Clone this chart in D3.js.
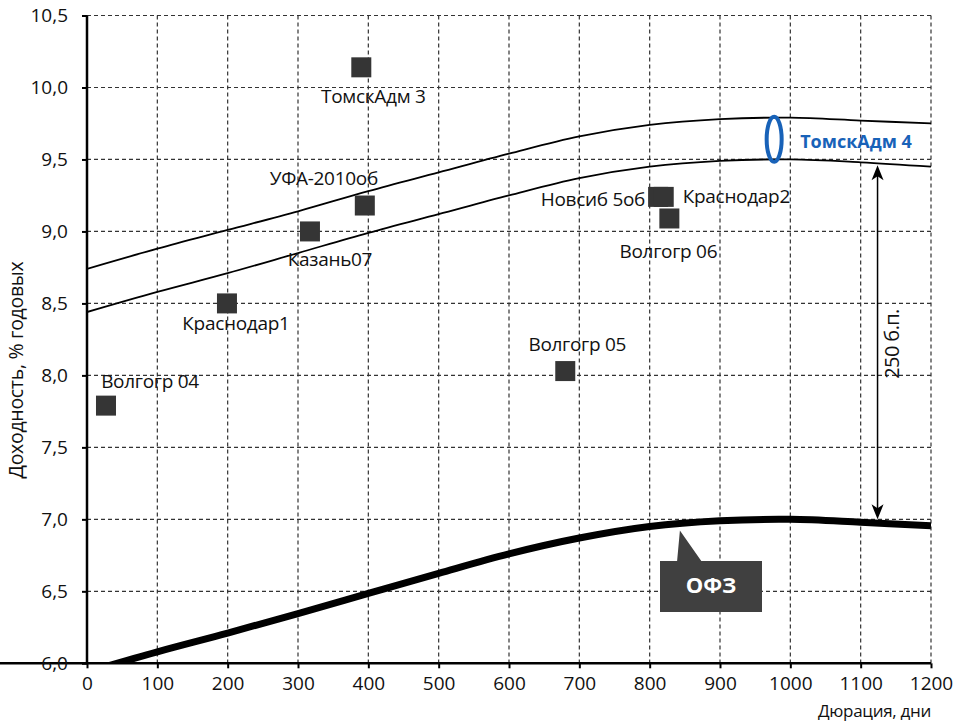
<!DOCTYPE html>
<html><head><meta charset="utf-8">
<script src="https://cdn.jsdelivr.net/npm/d3@7"></script>
<style>body{margin:0;background:#fff}svg{display:block}text{font-family:"Open Sans","Noto Sans",sans-serif}</style>
</head><body><svg id="c" width="955" height="727"></svg>
<script>
// data
const xTicks = [0,100,200,300,400,500,600,700,800,900,1000,1100,1200];
const yTicks = [6.0,6.5,7.0,7.5,8.0,8.5,9.0,9.5,10.0,10.5];
const curveX = [0,100,200,300,400,500,600,700,800,900,1000,1100,1200];
const upperY = [8.74,8.88,9.01,9.14,9.28,9.41,9.54,9.66,9.74,9.78,9.79,9.77,9.75];
const lowerY = [8.44,8.58,8.71,8.85,8.99,9.12,9.25,9.37,9.45,9.49,9.50,9.48,9.45];
const ofzY   = [5.94,6.08,6.21,6.345,6.485,6.625,6.76,6.87,6.95,6.99,7.00,6.98,6.955];
const bondNames = ["Волгогр 04","Краснодар1","Казань07","УФА-2010об","ТомскАдм 3","Волгогр 05","Новсиб 5об","Краснодар2","Волгогр 06"];
const bondDur   = [27,199,317,395,390,680,812,820,828];
const bondYield = [7.79,8.50,9.00,9.18,10.14,8.03,9.24,9.24,9.09];
const highlight = {name:"ТомскАдм 4", dur:977, yield:9.64};
const spreadLabel = "250 б.п.";
const spreadDur = 1124, spreadFrom = 9.46, spreadTo = 7.0;
const ofzLabel = "ОФЗ", ofzPointDur = 843;

const svg = d3.select("#c");
const x = d3.scaleLinear().domain([0,1200]).range([87,931]);
const y = d3.scaleLinear().domain([6,10.5]).range([663.3,15.5]);
const fmt = d => d.toFixed(1).replace(".",",");
const FS = 19;

// clip
svg.append("defs").append("clipPath").attr("id","pc").append("rect")
  .attr("x",x(0)).attr("y",y(10.5)).attr("width",x(1200)-x(0)).attr("height",y(6)-y(10.5));

// grid
const g = svg.append("g");
g.selectAll(".gx").data(xTicks.filter(d=>d>0)).join("line")
  .attr("x1",d=>x(d)).attr("x2",d=>x(d)).attr("y1",y(10.5)).attr("y2",y(6))
  .attr("stroke","#333").attr("stroke-width",1.2).attr("stroke-dasharray","4,3");
g.selectAll(".gy").data(yTicks.filter(d=>d>6)).join("line")
  .attr("y1",d=>y(d)).attr("y2",d=>y(d)).attr("x1",x(0)).attr("x2",x(1200))
  .attr("stroke","#333").attr("stroke-width",1.2).attr("stroke-dasharray","4,3");

// axes
const xa = svg.append("g").attr("transform",`translate(0,${y(6)})`)
  .call(d3.axisBottom(x).tickValues(xTicks).tickSize(5).tickPadding(8).tickFormat(d=>d));
const ya = svg.append("g").attr("transform",`translate(${x(0)},0)`)
  .call(d3.axisLeft(y).tickValues(yTicks).tickSize(5).tickPadding(14).tickFormat(fmt));
[xa,ya].forEach(a=>{
  a.attr("font-size",FS).attr("font-family","'Open Sans',sans-serif");
  a.select(".domain").attr("stroke","#000").attr("stroke-width",2.5);
  a.selectAll(".tick line").attr("stroke","#000").attr("stroke-width",2);
  a.selectAll(".tick text").attr("fill","#111");
});
ya.select(".domain").attr("d",`M0,${y(10.5)}V${y(6)}`);
xa.select(".domain").attr("d",`M0,0H${x(1200)}`);

// curves
const pts = arr => curveX.map((d,i)=>[d,arr[i]]);
const line = d3.line().x(d=>x(d[0])).y(d=>y(d[1])).curve(d3.curveCatmullRom.alpha(0.5));
const cg = svg.append("g").attr("clip-path","url(#pc)");
cg.append("path").attr("d",line(pts(upperY))).attr("fill","none").attr("stroke","#000").attr("stroke-width",1.8);
cg.append("path").attr("d",line(pts(lowerY))).attr("fill","none").attr("stroke","#000").attr("stroke-width",1.8);
cg.append("path").attr("d",line(pts(ofzY))).attr("fill","none").attr("stroke","#000").attr("stroke-width",7);

// points
const bonds = bondNames.map((n,i)=>({n,d:bondDur[i],v:bondYield[i]}));
svg.append("g").selectAll("rect").data(bonds).join("rect")
  .attr("x",d=>x(d.d)-10).attr("y",d=>y(d.v)-10).attr("width",20).attr("height",20)
  .attr("fill","#353535");
// label offsets
const lab = {
  "Волгогр 04":[44,-23,"middle"],
  "Краснодар1":[9,22,"middle"],
  "Казань07":[20,29,"middle"],
  "УФА-2010об":[-41,-26,"middle"],
  "ТомскАдм 3":[12,31,"middle"],
  "Волгогр 05":[12,-25,"middle"],
  "Новсиб 5об":[-13,4,"end"],
  "Краснодар2":[19,1,"start"],
  "Волгогр 06":[-1,34,"middle"]
};
svg.append("g").selectAll("text").data(bonds).join("text")
  .attr("x",d=>x(d.d)+lab[d.n][0]).attr("y",d=>y(d.v)+lab[d.n][1])
  .attr("text-anchor",d=>lab[d.n][2]).attr("dominant-baseline","middle")
  .attr("font-size",FS).attr("letter-spacing",-0.3).attr("fill","#111").text(d=>d.n);

// highlight
svg.append("ellipse").attr("cx",x(highlight.dur)).attr("cy",y(highlight.yield))
  .attr("rx",7.5).attr("ry",22.5).attr("fill","none").attr("stroke","#1862b8").attr("stroke-width",4);
svg.append("text").attr("x",x(highlight.dur)+26).attr("y",y(highlight.yield)+4)
  .attr("dominant-baseline","middle")
  .attr("font-size",18).attr("font-weight","bold").attr("fill","#1862b8").text(highlight.name);

// spread arrow
const ax = x(spreadDur), a1 = y(spreadFrom), a2 = y(spreadTo);
svg.append("line").attr("x1",ax).attr("x2",ax).attr("y1",a1+4).attr("y2",a2-4).attr("stroke","#000").attr("stroke-width",1.5);
svg.append("path").attr("d",`M${ax},${a1}L${ax-6},${a1+15}L${ax},${a1+11}L${ax+6},${a1+15}Z`).attr("fill","#000");
svg.append("path").attr("d",`M${ax},${a2}L${ax-6},${a2-15}L${ax},${a2-11}L${ax+6},${a2-15}Z`).attr("fill","#000");
svg.append("text").attr("transform",`translate(${ax+16},${344}) rotate(-90)`)
  .attr("text-anchor","middle").attr("dominant-baseline","middle").attr("font-size",20).attr("letter-spacing",-0.6).attr("fill","#111").text(spreadLabel);

// OFZ callout
const px = x(ofzPointDur), py = y(ofzY[8]);
const bx = 660, by = 561, bw = 102, bh = 51;
svg.append("path").attr("d",`M${bx},${by}H${bx+bw}V${by+bh}H${bx}Z M${bx+17},${by+1}L${px},${py+4}L${bx+42},${by+1}Z`).attr("fill","#404040");
svg.append("text").attr("x",bx+bw/2).attr("y",by+bh/2+1).attr("text-anchor","middle").attr("dominant-baseline","middle")
  .attr("font-size",22).attr("font-weight","bold").attr("fill","#fff").text(ofzLabel);

// axis titles
svg.append("text").attr("transform",`translate(18,${370}) rotate(-90)`).attr("text-anchor","middle")
  .attr("dominant-baseline","middle").attr("font-size",19.5).attr("letter-spacing",-0.3).attr("fill","#111").text("Доходность, % годовых");
svg.append("text").attr("x",931).attr("y",712).attr("text-anchor","end").attr("dominant-baseline","middle")
  .attr("font-size",17).attr("letter-spacing",-0.3).attr("fill","#111").text("Дюрация, дни");
</script></body></html>
